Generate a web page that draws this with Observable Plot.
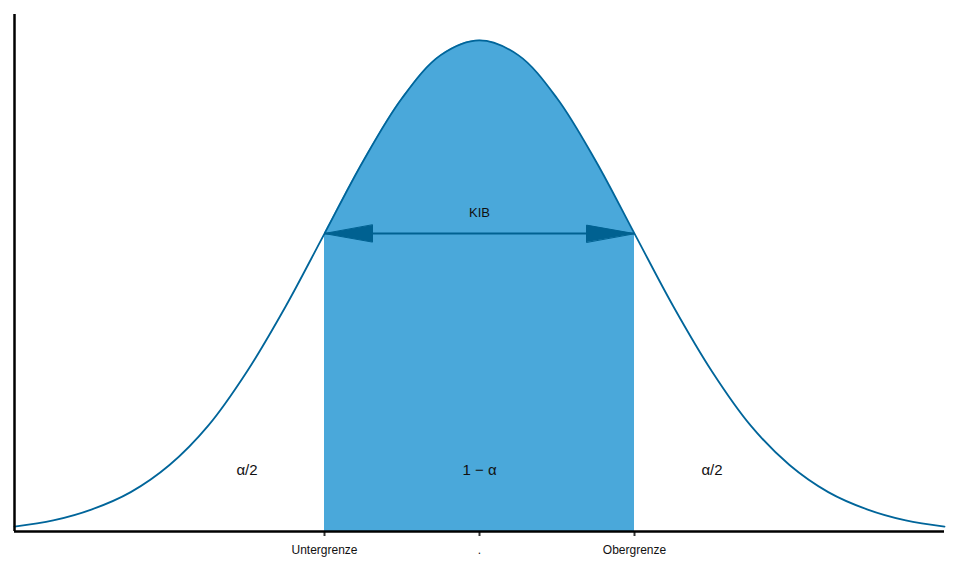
<!DOCTYPE html>
<html><head><meta charset="utf-8">
<script src="https://cdn.jsdelivr.net/npm/d3@7"></script>
<script src="https://cdn.jsdelivr.net/npm/@observablehq/plot@0.6"></script>
<style>body{margin:0;background:#fff}</style>
</head><body><div id="chart"></div>
<script>
// Curve values (x in standard units, y = density)
const zValues = [-3, -2.75, -2.5, -2.25, -2, -1.75, -1.5, -1.25, -1, -0.75, -0.5, -0.25, 0,
                 0.25, 0.5, 0.75, 1, 1.25, 1.5, 1.75, 2, 2.25, 2.5, 2.75, 3];
const densities = [0.004, 0.009, 0.018, 0.032, 0.054, 0.086, 0.130, 0.183, 0.242, 0.301, 0.352, 0.387, 0.399,
                   0.387, 0.352, 0.301, 0.242, 0.183, 0.130, 0.086, 0.054, 0.032, 0.018, 0.009, 0.004];
const lowerBound = -1;
const upperBound = 1;
const tickValues = [-1, 0, 1];
const tickLabels = ["Untergrenze", ".", "Obergrenze"];
const regionX = [-1.5, 0, 1.5];
const regionLabels = ["α/2", "1 − α", "α/2"];
const regionY = 0.05;
const intervalLabel = "KIB";

const curve = zValues.map((z, i) => ({z, d: densities[i]}));
const inside = curve.filter(p => p.z >= lowerBound && p.z <= upperBound);
const h = curve.find(p => p.z === upperBound).d;
const heads = [{x: lowerBound, y: h, a: -90}, {x: upperBound, y: h, a: 90}];
const regions = regionX.map((x, i) => ({x, y: regionY, t: regionLabels[i]}));

const triangle = {
  draw(ctx, l, r) {
    ctx.moveTo(0, -l);
    ctx.lineTo(-r, 0);
    ctx.lineTo(r, 0);
    ctx.closePath();
  }
};

const lineColor = "#00659a";
const arrowColor = "#006191";
const fillColor = "#4aa8da";

const chart = Plot.plot({
  width: 960,
  height: 576,
  marginLeft: 14,
  marginRight: 16,
  marginTop: 14,
  marginBottom: 45,
  style: {fontFamily: "'Liberation Sans', Arial, sans-serif", background: "#fff"},
  x: {domain: [-3, 3], axis: null},
  y: {domain: [0, 0.42], axis: null},
  marks: [
    Plot.areaY(curve, {x: "z", y: "d", fill: fillColor, curve: "catmull-rom",
                       filter: p => p.z >= lowerBound && p.z <= upperBound}),
    Plot.lineY(curve, {x: "z", y: "d", stroke: lineColor, strokeWidth: 1.8, curve: "catmull-rom"}),
    Plot.ruleY([h], {x1: lowerBound, x2: upperBound, stroke: arrowColor, strokeWidth: 2}),
    Plot.vector(heads, {x: "x", y: "y", rotate: "a", length: 48, r: 8.5, anchor: "end", shape: triangle,
                        fill: arrowColor, stroke: arrowColor, strokeWidth: 1}),
    Plot.text([intervalLabel], {x: (lowerBound + upperBound) / 2, y: h, text: d => d, dy: -21, fontSize: 13, fill: "#111"}),
    Plot.text(regions, {x: "x", y: "y", text: "t", fontSize: 15, fill: "#111"}),
    Plot.axisX({ticks: tickValues, tickFormat: (d) => tickLabels[tickValues.indexOf(d)], tickSize: 5,
                tickPadding: 9, stroke: "#333", strokeWidth: 2, fontSize: 12, label: null, fill: "#111"}),
    Plot.ruleY([0], {stroke: "#000", strokeWidth: 2.5}),
    Plot.ruleX([-3], {stroke: "#000", strokeWidth: 2.5})
  ]
});
document.getElementById("chart").appendChild(chart);
</script>
</body></html>
